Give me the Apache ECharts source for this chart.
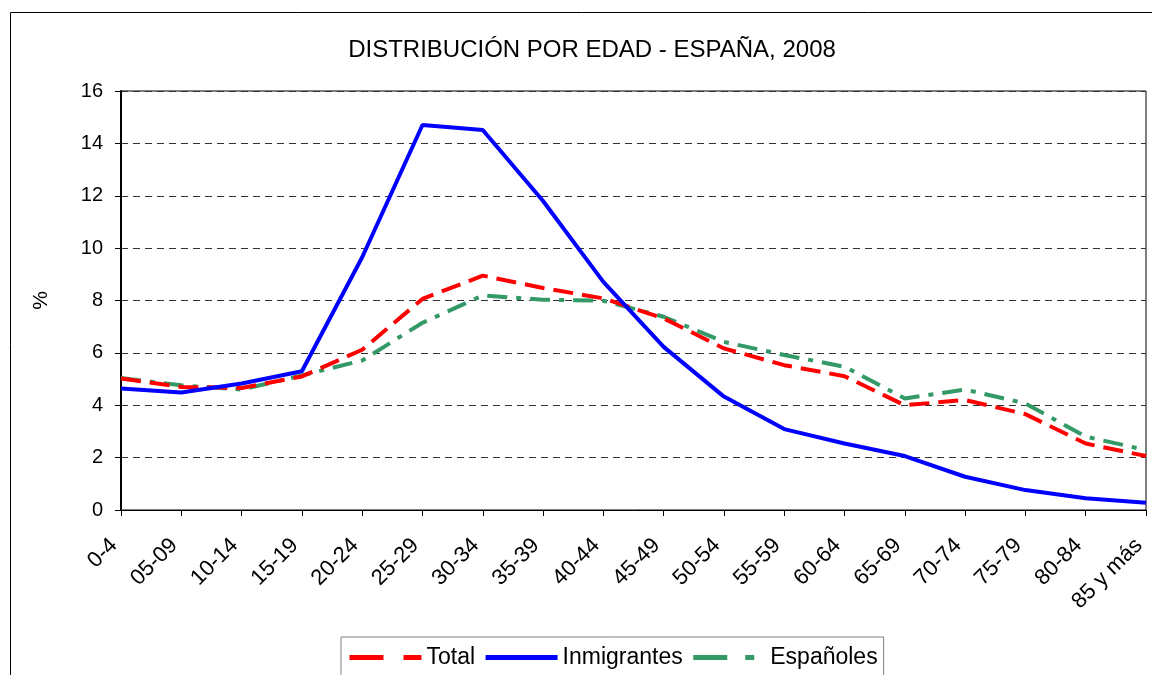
<!DOCTYPE html>
<html>
<head>
<meta charset="utf-8">
<script src="https://cdn.jsdelivr.net/npm/echarts@6/dist/echarts.min.js"></script>
<style>
  html, body { margin: 0; padding: 0; background: #fff; }
  #chart { width: 1152px; height: 675px; }
</style>
</head>
<body>
<div id="chart"></div>
<script>
(function (window, echarts) {
    'use strict';

    const ageGroups = ['0-4', '05-09', '10-14', '15-19', '20-24', '25-29', '30-34', '35-39', '40-44',
        '45-49', '50-54', '55-59', '60-64', '65-69', '70-74', '75-79', '80-84', '85 y más'];

    const total = [5.02, 4.70, 4.66, 5.10, 6.12, 8.06, 8.95, 8.48, 8.08, 7.32, 6.17, 5.53, 5.11, 4.00, 4.20, 3.66, 2.54, 2.06];
    const inmigrantes = [4.64, 4.49, 4.83, 5.30, 9.65, 14.70, 14.51, 11.80, 8.71, 6.23, 4.33, 3.09, 2.54, 2.06, 1.27, 0.76, 0.45, 0.28];
    const espanoles = [5.04, 4.76, 4.60, 5.14, 5.71, 7.15, 8.19, 8.03, 7.99, 7.38, 6.42, 5.92, 5.47, 4.26, 4.60, 4.07, 2.80, 2.29];

    const yTicks = [0, 2, 4, 6, 8, 10, 12, 14, 16];

    const font = '"Liberation Sans", Arial, sans-serif';

    const chart = echarts.init(document.getElementById('chart'), null, {renderer: 'canvas'});

    // legend shows only the line, no marker
    const noMarker = {color: 'rgba(0,0,0,0)', borderWidth: 0, opacity: 0};

    const options = {
        backgroundColor: '#fff',
        animation: false,
        title: {
            text: 'DISTRIBUCIÓN POR EDAD - ESPAÑA, 2008',
            left: 587,
            textAlign: 'center',
            top: 33,
            textStyle: {fontFamily: font, fontSize: 24, fontWeight: 'normal', color: '#000'}
        },
        // outer chart frame, runs past the page edge as in the picture
        graphic: [{
            type: 'rect',
            shape: {x: 10.5, y: 12.5, width: 1200, height: 700},
            style: {fill: null, stroke: '#000', lineWidth: 1},
            silent: true
        }],
        grid: {
            left: 121, right: 6, top: 91, bottom: 165,
            show: true, borderColor: '#000', borderWidth: 1,
            containLabel: false
        },
        legend: {
            left: 341, top: 637,
            padding: [9, 6, 8, 6],
            itemWidth: 72, itemHeight: 14, itemGap: 8,
            borderColor: '#808080', borderWidth: 1,
            itemStyle: noMarker,
            textStyle: {fontFamily: font, fontSize: 23, color: '#000'},
            data: [
                {name: 'Total', itemStyle: noMarker, lineStyle: {type: [34, 20], width: 5}},
                {name: 'Inmigrantes', itemStyle: noMarker, lineStyle: {width: 5}},
                {name: 'Españoles', itemStyle: noMarker, lineStyle: {type: [34, 18, 9, 20], width: 5}}
            ]
        },
        xAxis: {
            type: 'category',
            data: ageGroups,
            boundaryGap: false,
            axisLine: {lineStyle: {color: '#000', width: 1}},
            axisTick: {length: 6, lineStyle: {color: '#000'}},
            axisLabel: {
                rotate: 45, margin: 25, interval: 0,
                padding: [0, 10, 0, 0],
                fontFamily: font, fontSize: 22, color: '#000'
            },
            splitLine: {show: false}
        },
        yAxis: {
            type: 'value',
            min: yTicks[0], max: yTicks[yTicks.length - 1], interval: 2,
            name: '%',
            nameLocation: 'middle',
            nameGap: 69,
            nameRotate: 90,
            nameTextStyle: {fontFamily: font, fontSize: 21, color: '#000'},
            axisLine: {show: true, lineStyle: {color: '#000', width: 2}},
            axisTick: {show: true, length: 6, lineStyle: {color: '#000'}},
            axisLabel: {margin: 18, fontFamily: font, fontSize: 20, color: '#000'},
            splitLine: {lineStyle: {color: '#333', type: [7, 5], width: 1}}
        },
        series: [
            {
                name: 'Total', type: 'line', data: total,
                symbol: 'none', z: 3,
                color: '#ff0000',
                lineStyle: {color: '#ff0000', width: 4, type: [20, 9], cap: 'butt'}
            },
            {
                name: 'Inmigrantes', type: 'line', data: inmigrantes,
                symbol: 'none', z: 4,
                color: '#0000ff',
                lineStyle: {color: '#0000ff', width: 4}
            },
            {
                name: 'Españoles', type: 'line', data: espanoles,
                symbol: 'none', z: 2,
                color: '#339966',
                lineStyle: {color: '#339966', width: 4, type: [20, 9, 5, 9], cap: 'butt'}
            }
        ]
    };

    chart.setOption(options);

})(window, echarts);
</script>
</body>
</html>
